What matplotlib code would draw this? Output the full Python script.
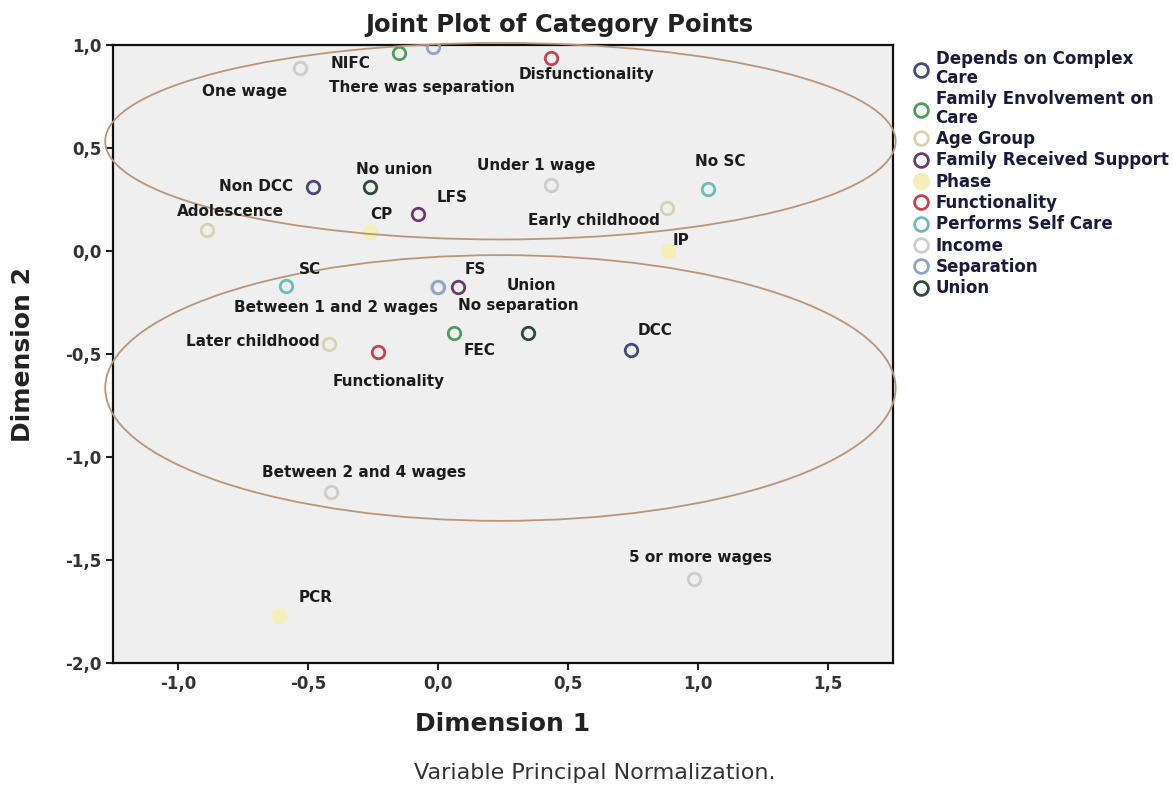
import matplotlib
matplotlib.use("Agg")
import matplotlib.pyplot as plt
from matplotlib.patches import Ellipse
from matplotlib.ticker import FuncFormatter

# variable groups (legend order)
groups = ["Depends on Complex\nCare", "Family Envolvement on\nCare", "Age Group",
          "Family Received Support", "Phase", "Functionality", "Performs Self Care",
          "Income", "Separation", "Union"]

# category points: name, group index, coordinates, label position
cat_names = ["Non DCC", "DCC",
             "NIFC", "FEC",
             "Adolescence", "Early childhood", "Later childhood",
             "LFS", "FS",
             "CP", "IP", "PCR",
             "Disfunctionality", "Functionality",
             "No SC", "SC",
             "One wage", "Under 1 wage", "Between 1 and 2 wages", "Between 2 and 4 wages", "5 or more wages",
             "There was separation", "No separation",
             "No union", "Union"]
cat_group = [0, 0, 1, 1, 2, 2, 2, 3, 3, 4, 4, 4, 5, 5, 6, 6, 7, 7, 7, 7, 7, 8, 8, 9, 9]
dim1 = [-0.48, 0.743, -0.15, 0.063, -0.89, 0.88, -0.42, -0.075, 0.076, -0.26, 0.885, -0.61,
        0.435, -0.23, 1.04, -0.585, -0.53, 0.435, -0.005, -0.41, 0.985, -0.02, 0.0, -0.26, 0.347]
dim2 = [0.31, -0.48, 0.96, -0.40, 0.10, 0.21, -0.45, 0.18, -0.175, 0.09, 0.0, -1.77,
        0.935, -0.49, 0.30, -0.17, 0.89, 0.32, -0.175, -1.17, -1.594, 0.99, -0.175, 0.31, -0.40]
label_x = [-0.70, 0.833, -0.335, 0.161, -0.80, 0.60, -0.712, 0.053, 0.145, -0.218, 0.935, -0.47,
           0.573, -0.188, 1.086, -0.492, -0.745, 0.376, -0.394, -0.284, 1.01, -0.06, 0.308, -0.167, 0.36]
label_y = [0.315, -0.387, 0.91, -0.484, 0.19, 0.15, -0.439, 0.258, -0.089, 0.177, 0.052, -1.68,
           0.855, -0.632, 0.435, -0.089, 0.774, 0.416, -0.274, -1.073, -1.49, 0.795, -0.263, 0.398, -0.169]

narrow = ["Early childhood", "Later childhood", "CP", "IP", "PCR"]

colors = ["#474b7a", "#4f9c62", "#d6d2b2", "#6b3b6b", "#f4efb8",
          "#c2454f", "#6bbdb5", "#cdcdcd", "#8fa5c8", "#2e4a3c"]

W, H = 1173, 785
fig = plt.figure(figsize=(W / 100, H / 100), dpi=100)
ax = fig.add_axes([113 / W, 1 - 663 / H, (893 - 113) / W, (663 - 45) / H])
ax.set_facecolor("#efefef")
ax.set_xlim(-1.25, 1.75)
ax.set_ylim(-2.0, 1.0)
ax.set_xticks([-1.0, -0.5, 0.0, 0.5, 1.0, 1.5])
ax.set_yticks([-2.0, -1.5, -1.0, -0.5, 0.0, 0.5, 1.0])
fmt = FuncFormatter(lambda v, p: f"{v:.1f}".replace(".", ","))
ax.xaxis.set_major_formatter(fmt)
ax.yaxis.set_major_formatter(fmt)
ax.tick_params(direction="out", length=5, width=1.5, labelsize=12, colors="#222222")
for t in ax.get_xticklabels() + ax.get_yticklabels():
    t.set_fontweight("bold")
    t.set_color("#333333")
for s in ax.spines.values():
    s.set_linewidth(1.6)
    s.set_color("#111111")

# points by group (income drawn before separation so the hidden point sits underneath)
handles = []
for g, name in enumerate(groups):
    xs = [dim1[i] for i in range(len(cat_names)) if cat_group[i] == g]
    ys = [dim2[i] for i in range(len(cat_names)) if cat_group[i] == g]
    if g == 4:
        h, = ax.plot(xs, ys, "o", ms=10, mfc=colors[g], mec=colors[g], mew=1.5, zorder=3)
    else:
        h, = ax.plot(xs, ys, "o", ms=9, mfc="none", mec=colors[g], mew=2.0, zorder=3 + g * 0.01)
    handles.append(h)

for i, name in enumerate(cat_names):
    if name in narrow:
        ax.text(label_x[i], label_y[i], name, ha="center", va="center", fontsize=11,
                fontweight="bold", color="#1c1c1c",
                family=["Liberation Sans Narrow", "DejaVu Sans"], zorder=5)
    else:
        ax.text(label_x[i], label_y[i], name, ha="center", va="center", fontsize=11,
                fontweight="bold", color="#1c1c1c", zorder=5)

# hand-drawn highlight ellipses
ax.add_patch(Ellipse((0.24, 0.533), 3.04, 0.954, fill=False, ec="#b8967a", lw=1.3, clip_on=False, zorder=4))
ax.add_patch(Ellipse((0.24, -0.665), 3.04, 1.29, fill=False, ec="#b8967a", lw=1.3, clip_on=False, zorder=4))

leg = fig.legend(handles, groups, loc="upper left", bbox_to_anchor=(913 / W, 1 - 50 / H),
                 frameon=False, fontsize=12, handlelength=1.0, handletextpad=0.35,
                 labelspacing=0.2, borderaxespad=0, borderpad=0, markerscale=1.1)
for t in leg.get_texts():
    t.set_fontweight("bold")
    t.set_color("#1a1a3a")
    t.set_linespacing(1.05)

fig.text(559 / W, 1 - 25 / H, "Joint Plot of Category Points", ha="center", va="center",
         fontsize=17.5, fontweight="bold", color="#222222")
fig.text(503 / W, 1 - 724 / H, "Dimension 1", ha="center", va="center",
         fontsize=18, fontweight="bold", color="#222222")
fig.text(23 / W, 1 - 354 / H, "Dimension 2", ha="center", va="center", rotation=90,
         fontsize=18, fontweight="bold", color="#222222")
fig.text(595 / W, 1 - 773 / H, "Variable Principal Normalization.", ha="center", va="center",
         fontsize=16, color="#333333")

fig.savefig("out.png", dpi=100)
